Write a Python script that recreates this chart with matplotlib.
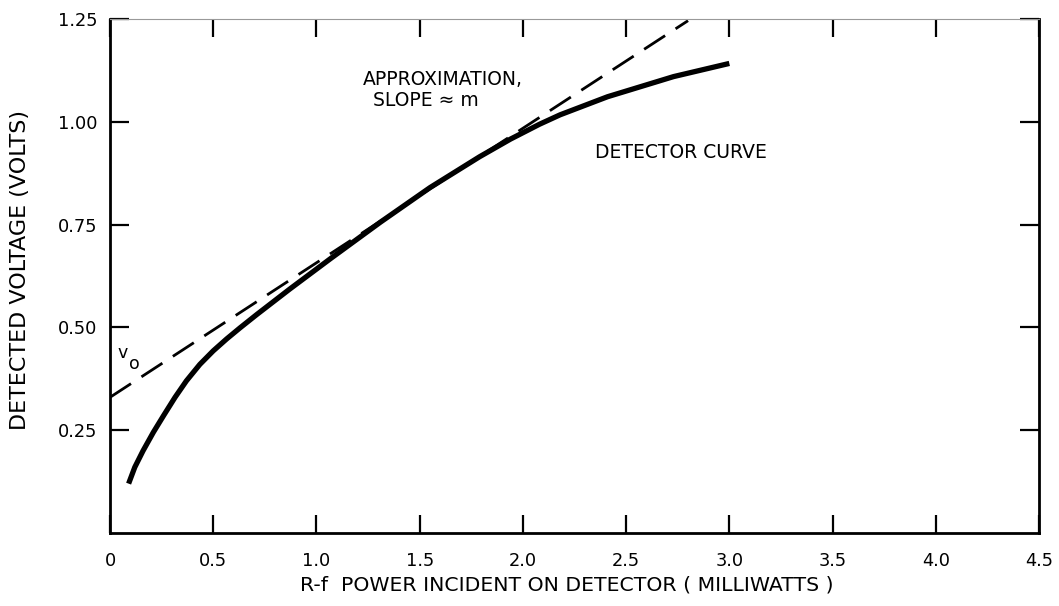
import numpy as np
import matplotlib
matplotlib.use("Agg")
import matplotlib.pyplot as plt

# detector response
det_x = [0.09, 0.12, 0.16, 0.21, 0.26, 0.315, 0.37, 0.435, 0.50, 0.565,
         0.63, 0.71, 0.79, 0.87, 0.95, 1.07, 1.31, 1.55, 1.79, 1.94,
         2.08, 2.18, 2.41, 2.73, 3.00]
det_y = [0.12, 0.16, 0.20, 0.245, 0.286, 0.33, 0.37, 0.41, 0.443, 0.472,
         0.499, 0.531, 0.562, 0.593, 0.623, 0.668, 0.756, 0.840, 0.915, 0.958,
         0.994, 1.017, 1.061, 1.110, 1.142]

# straight-line approximation, intercept v0 and slope m
approx_x = [0.0, 2.80]
approx_y = [0.33, 1.246]

x_ticks = [0, 0.5, 1.0, 1.5, 2.0, 2.5, 3.0, 3.5, 4.0, 4.5]
x_labels = ["0", "0.5", "1.0", "1.5", "2.0", "2.5", "3.0", "3.5", "4.0", "4.5"]
y_ticks = [0.25, 0.50, 0.75, 1.00, 1.25]
y_labels = ["0.25", "0.50", "0.75", "1.00", "1.25"]

plt.rcParams["font.family"] = ["DejaVu Sans"]

fig = plt.figure(figsize=(10.59, 6.06), dpi=100)
ax = fig.add_axes([0.1039, 0.1205, 0.8772, 0.8481])

ax.plot(det_x, det_y, color="black", lw=3.8, solid_capstyle="butt",
        solid_joinstyle="round")
ax.plot(approx_x, approx_y, color="black", lw=2.0, dashes=(9, 4.5))

ax.set_xlim(0, 4.5)
ax.set_ylim(0, 1.25)

ax.set_xticks(x_ticks)
ax.set_xticklabels(x_labels)
ax.set_yticks(y_ticks)
ax.set_yticklabels(y_labels)

ax.tick_params(axis="both", direction="in", width=1.6, labelsize=12.8,
               top=True, right=True)
ax.tick_params(axis="x", length=13, pad=14)
ax.tick_params(axis="y", length=14, pad=9)

for side in ["left", "bottom", "right"]:
    ax.spines[side].set_linewidth(2.0)
ax.spines["top"].set_linewidth(0.8)
ax.spines["top"].set_color("#999999")

ax.set_xlabel("R-f  POWER INCIDENT ON DETECTOR ( MILLIWATTS )", fontsize=14.7)
ax.xaxis.set_label_coords(0.492, -0.082)
ax.set_ylabel("DETECTED VOLTAGE (VOLTS)", fontsize=16)
ax.yaxis.set_label_coords(-0.086, 0.512)

ax.text(2.0, 1.104, "APPROXIMATION,", fontsize=13.5, va="center", ha="right")
ax.text(1.274, 1.051, "SLOPE \u2248 m", fontsize=13.5, va="center", ha="left")
ax.text(2.35, 0.925, "DETECTOR CURVE", fontsize=13.5, va="center", ha="left")
ax.text(0.063, 0.437, "v", fontsize=12.5, va="center", ha="center")
ax.text(0.116, 0.410, "o", fontsize=12.5, va="center", ha="center")

fig.savefig("out.png", dpi=100)
plt.close(fig)
